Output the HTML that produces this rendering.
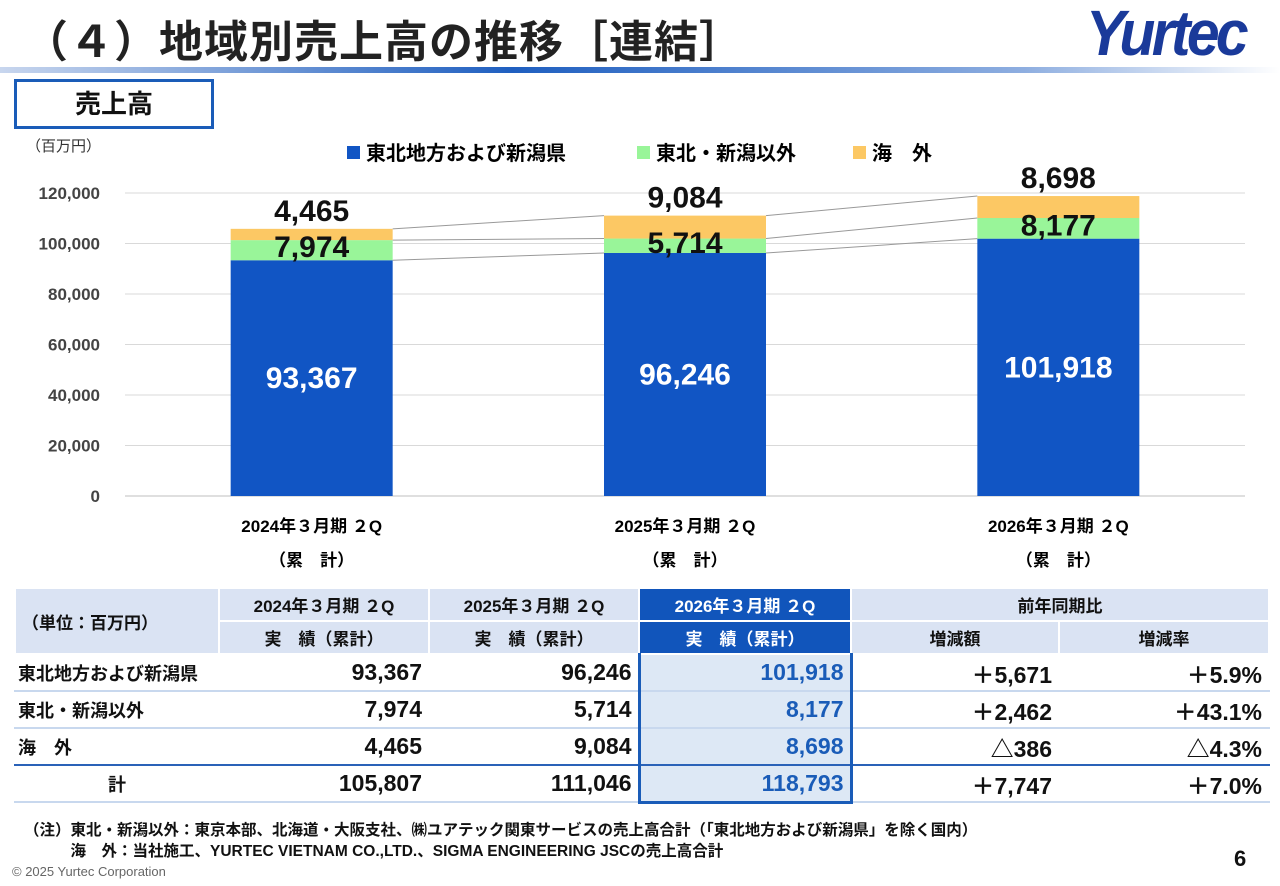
<!DOCTYPE html>
<html><head><meta charset="utf-8">
<style>
*{margin:0;padding:0;box-sizing:border-box}
body{width:1280px;height:886px;background:#fff;position:relative;overflow:hidden;font-family:"Liberation Sans","Noto Sans CJK JP",sans-serif;color:#111}
.abs{position:absolute}
table{position:absolute;left:14px;top:587px;border-collapse:collapse;font-family:"Liberation Sans","Noto Sans CJK JP",sans-serif}
td{border:2px solid #fff;font-weight:bold;font-size:20px;height:37px;padding:0 6px}
.h{background:#dae3f3;text-align:center;font-size:17px;height:33px}
.hl{background:#1155bb;color:#fff}
.n{text-align:right;font-size:23px}
.c{background:#dde8f5;color:#1a5cb8;border-left:3px solid #1a5cb8;border-right:3px solid #1a5cb8}
tr.sep td{border-bottom:2px solid #c8d8ee}
</style></head><body>
<div class="abs" style="left:24px;top:6px;font-size:44px;font-weight:bold;font-family:'Liberation Sans','Noto Sans CJK JP',sans-serif;color:#222;white-space:nowrap;letter-spacing:1px">（４）地域別売上高の推移［連結］</div>
<div class="abs" style="left:1086px;top:-4px;font-size:64px;font-weight:bold;font-style:italic;color:#1a3a9a;letter-spacing:-4px;transform:scaleX(0.92);transform-origin:left">Yurtec</div>
<div class="abs" style="left:0;top:67px;width:1280px;height:6px;background:linear-gradient(90deg,#c8d6ee,#1f5fc0 40%,#8eaee0 80%,#fff)"></div>
<div class="abs" style="left:14px;top:79px;width:200px;height:50px;border:3px solid #1a5cb8;text-align:center;font-size:26px;font-weight:bold;line-height:44px">売上高</div>
<div class="abs" style="left:26px;top:135px;font-size:15px;color:#333">（百万円）</div>
<svg class="abs" style="left:0;top:0" width="1280" height="586" id="chart"></svg>
<table>
<tr><td class="h" rowspan="2" style="width:204px;text-align:left">（単位：百万円）</td><td class="h" style="width:210px">2024年３月期 ２Q</td><td class="h" style="width:210px">2025年３月期 ２Q</td><td class="h hl" style="width:212px">2026年３月期 ２Q</td><td class="h" colspan="2">前年同期比</td></tr>
<tr><td class="h">実　績（累計）</td><td class="h">実　績（累計）</td><td class="h hl">実　績（累計）</td><td class="h" style="width:208px">増減額</td><td class="h" style="width:210px">増減率</td></tr>
<tr class="sep"><td style="font-size:18px;padding:0 2px">東北地方および新潟県</td><td class="n">93,367</td><td class="n">96,246</td><td class="n c">101,918</td><td class="n">＋5,671</td><td class="n">＋5.9%</td></tr>
<tr class="sep"><td style="font-size:18px;padding:0 2px">東北・新潟以外</td><td class="n">7,974</td><td class="n">5,714</td><td class="n c">8,177</td><td class="n">＋2,462</td><td class="n">＋43.1%</td></tr>
<tr><td style="font-size:18px;padding:0 2px;border-bottom:2px solid #2a62b8">海　外</td><td class="n" style="border-bottom:2px solid #2a62b8">4,465</td><td class="n" style="border-bottom:2px solid #2a62b8">9,084</td><td class="n c" style="border-bottom:2px solid #2a62b8">8,698</td><td class="n" style="border-bottom:2px solid #2a62b8">△386</td><td class="n" style="border-bottom:2px solid #2a62b8">△4.3%</td></tr>
<tr class="sep"><td style="text-align:center;font-size:18px">計</td><td class="n">105,807</td><td class="n">111,046</td><td class="n c" style="border-bottom:3px solid #1a5cb8">118,793</td><td class="n">＋7,747</td><td class="n">＋7.0%</td></tr>
</table>
<div class="abs" style="left:24px;top:820px;font-size:15.5px;font-weight:bold;line-height:21px;white-space:nowrap">（注）東北・新潟以外：東京本部、北海道・大阪支社、㈱ユアテック関東サービスの売上高合計（「東北地方および新潟県」を除く国内）<br>　　　海　外：当社施工、YURTEC VIETNAM CO.,LTD.、SIGMA ENGINEERING JSCの売上高合計</div>
<div class="abs" style="left:12px;top:864px;font-size:13px;color:#666">© 2025 Yurtec Corporation</div>
<div class="abs" style="left:1234px;top:846px;font-size:22px;font-weight:bold">6</div>
<script>
const categories=["2024年３月期 ２Q","2025年３月期 ２Q","2026年３月期 ２Q"];
const seriesNames=["東北地方および新潟県","東北・新潟以外","海　外"];
const tohoku=[93367,96246,101918];
const other=[7974,5714,8177];
const overseas=[4465,9084,8698];
const yTicks=[0,20000,40000,60000,80000,100000,120000];
const svg=document.getElementById('chart');
const NS='http://www.w3.org/2000/svg';
const y0=496,yTop=193,yMax=120000,xL=125,xR=1245,bw=162;
const y=v=>y0-(v/yMax)*(y0-yTop);
const xc=i=>xL+(xR-xL)*(i+0.5)/categories.length;
function mk(t,a,txt){const e=document.createElementNS(NS,t);for(const k in a)e.setAttribute(k,a[k]);if(txt!==undefined)e.textContent=txt;svg.appendChild(e);return e;}
const F='Liberation Sans, Noto Sans CJK JP, sans-serif';
yTicks.forEach(t=>{
 const g=mk('line',{x1:xL,x2:xR,y1:y(t),y2:y(t),stroke:t===0?'#bfbfbf':'#d9d9d9','stroke-width':1});
 
 const l=mk('text',{x:100,y:y(t)+6,'text-anchor':'end','font-size':17,'font-weight':'bold','font-family':F,fill:'#444'},t.toLocaleString('en-US'));
 
});
const cols=['#1155c4','#99f599','#fcc864'];
const series=[tohoku,other,overseas];
for(let i=0;i<categories.length-1;i++){let c1=0,c2=0;for(let s=0;s<3;s++){c1+=series[s][i];c2+=series[s][i+1];
 const ln=mk('line',{x1:xc(i)+bw/2,y1:y(c1),x2:xc(i+1)-bw/2,y2:y(c2),stroke:'#999','stroke-width':1});
 }}
categories.forEach((c,i)=>{
 let cum=0;
 series.forEach((arr,s)=>{
  const v=arr[i];const r=mk('rect',{x:xc(i)-bw/2,y:y(cum+v),width:bw,height:y(cum)-y(cum+v),fill:cols[s]});
  
  cum+=v;
 });
});
categories.forEach((c,i)=>{
 let cum=0;
 series.forEach((arr,s)=>{
  const v=arr[i];
  let ty,fill='#111',fs=30;
  if(s===0){ty=y(cum+v/2)+10;fill='#fff';}
  else if(s===1){ty=y(cum+v/2)+7;}
  else{ty=y(cum+v)-8;}
  const t=mk('text',{x:xc(i),y:ty,'text-anchor':'middle','font-size':fs,'font-weight':'bold','font-family':F,fill:fill},v.toLocaleString('en-US'));
  
  cum+=v;
 });
 const a=mk('text',{x:xc(i),y:532,'text-anchor':'middle','font-size':17,'font-weight':'bold','font-family':F},c);
 
 const b=mk('text',{x:xc(i),y:566,'text-anchor':'middle','font-size':17,'font-weight':'bold','font-family':F},'（累　計）');
 
});
const lx=[347,637,853];
seriesNames.forEach((n,s)=>{
 const r=mk('rect',{x:lx[s],y:146,width:13,height:13,fill:cols[s]});
 
 const t=mk('text',{x:lx[s]+19,y:160,'font-size':20,'font-weight':'bold','font-family':F},n);
 
});
</script>
</body></html>
